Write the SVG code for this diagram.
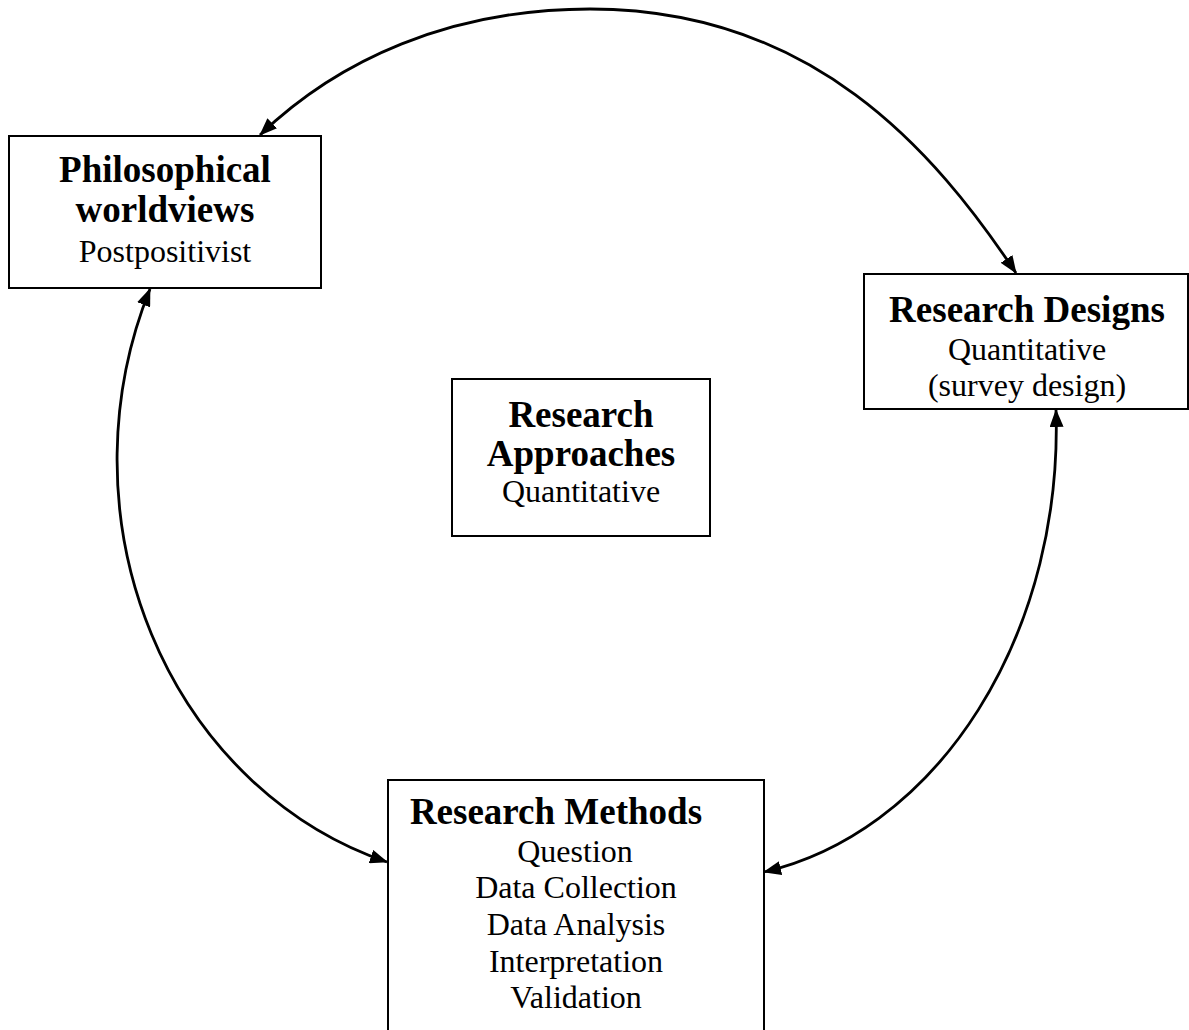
<svg xmlns="http://www.w3.org/2000/svg" width="1189" height="1030" viewBox="0 0 1189 1030">
  <style>
    .box { fill: #ffffff; stroke: #000000; stroke-width: 2; }
    .head { font-family: "Liberation Serif", "Times New Roman", serif; font-weight: bold; font-size: 37px; fill: #000000; text-anchor: middle; }
    .body { font-family: "Liberation Serif", "Times New Roman", serif; font-size: 32px; fill: #000000; text-anchor: middle; }
    .link { fill: none; stroke: #000000; stroke-width: 2.8; marker-start: url(#arrow); marker-end: url(#arrow); }
  </style>
  <defs>
    <marker id="arrow" viewBox="0 0 18 14" markerWidth="18" markerHeight="14" refX="17" refY="7" markerUnits="userSpaceOnUse" orient="auto-start-reverse">
      <path d="M0,0 L18,7 L0,14 Z" fill="#000000"/>
    </marker>
  </defs>

  <rect x="0" y="0" width="1189" height="1030" fill="#ffffff"/>

  <!-- connectors: curved two-way arrows linking the outer boxes -->
  <g id="connectors">
    <path id="worldviews-designs" class="link" d="M 260 135 C 338 60, 450 9, 590 9 C 812 9, 934 150, 1016 273"/>
    <path id="methods-worldviews" class="link" d="M 387 862 A 383 421 0 0 1 150 289"/>
    <path id="designs-methods" class="link" d="M 1056 410 A 357 451 0 0 1 764 872"/>
  </g>

  <g id="worldviews">
    <rect class="box" x="9" y="136" width="312" height="152"/>
    <text class="head" x="165" y="182">Philosophical</text>
    <text class="head" x="165" y="222">worldviews</text>
    <text class="body" x="165" y="262">Postpositivist</text>
  </g>

  <g id="designs">
    <rect class="box" x="864" y="274" width="324" height="135"/>
    <text class="head" x="1027" y="322">Research Designs</text>
    <text class="body" x="1027" y="360">Quantitative</text>
    <text class="body" x="1027" y="396">(survey design)</text>
  </g>

  <g id="approaches">
    <rect class="box" x="452" y="379" width="258" height="157"/>
    <text class="head" x="581" y="427">Research</text>
    <text class="head" x="581" y="466">Approaches</text>
    <text class="body" x="581" y="502">Quantitative</text>
  </g>

  <g id="methods">
    <rect class="box" x="388" y="780" width="376" height="270"/>
    <text class="head" x="556" y="824">Research Methods</text>
    <text class="body" x="575" y="862">Question</text>
    <text class="body" x="576" y="898">Data Collection</text>
    <text class="body" x="576" y="935">Data Analysis</text>
    <text class="body" x="576" y="972">Interpretation</text>
    <text class="body" x="576" y="1008">Validation</text>
  </g>
</svg>
